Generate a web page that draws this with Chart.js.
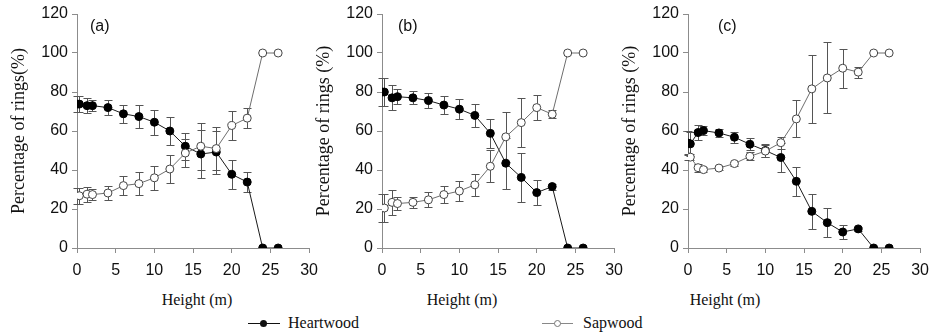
<!DOCTYPE html>
<html>
<head>
<meta charset="utf-8">
<script src="https://cdn.jsdelivr.net/npm/chart.js@4.4.1/dist/chart.umd.min.js"></script>
<style>
  body { margin: 0; background: #fff; }
  #fig { position: relative; width: 939px; height: 335px; overflow: hidden; background: #fff; }
  #fig canvas { position: absolute; top: 0; }
  .lbl { position: absolute; font-family: "Liberation Sans", Arial, sans-serif; font-size: 16px; color: #111; line-height: 18px; }
  .xt { position: absolute; width: 140px; text-align: center; font-family: "Liberation Serif", serif; font-size: 16px; color: #111; line-height: 20px; top: 290px; }
  .leg { position: absolute; top: 313px; height: 20px; font-family: "Liberation Serif", serif; font-size: 16px; color: #111; line-height: 20px; }
  .leg .ln { position: absolute; top: 10px; height: 1px; }
  .leg .dot { position: absolute; top: 7px; width: 7px; height: 7px; border-radius: 50%; box-sizing: border-box; }
</style>
</head>
<body>
<div id="fig">
  <canvas id="pa" width="326" height="290" style="left:0px"></canvas>
  <canvas id="pb" width="326" height="290" style="left:305px"></canvas>
  <canvas id="pc" width="326" height="290" style="left:611px"></canvas>

  <div class="lbl" style="left:90px;top:17px">(a)</div>
  <div class="lbl" style="left:398px;top:17px">(b)</div>
  <div class="lbl" style="left:718px;top:17px">(c)</div>

  <div class="xt" style="left:127px">Height (m)</div>
  <div class="xt" style="left:392px">Height (m)</div>
  <div class="xt" style="left:655px">Height (m)</div>

  <div class="leg" style="left:248px;width:120px">
    <div class="ln" style="left:0;width:32px;background:#111"></div>
    <div class="dot" style="left:12px;background:#111"></div>
    <span style="position:absolute;left:40px">Heartwood</span>
  </div>
  <div class="leg" style="left:542px;width:120px">
    <div class="ln" style="left:0;width:31px;background:#888"></div>
    <div class="dot" style="left:12px;background:#fff;border:1px solid #777"></div>
    <span style="position:absolute;left:41px">Sapwood</span>
  </div>
</div>

<script>
/* ── DATA ─────────────────────────────────────────────────────────────── */
const HEIGHTS = [0, 0.3, 1.3, 2, 4, 6, 8, 10, 12, 14, 16, 18, 20, 22, 24, 26];
const X_TICKS = [0, 5, 10, 15, 20, 25, 30];
const Y_TICKS = [0, 20, 40, 60, 80, 100, 120];

const heartA    = [73.8, 73.8, 73, 73, 72, 68.8, 67.4, 64.5, 60, 52.2, 48.2, 49.2, 37.8, 33.8, 0, 0];
const heartAErr = [4, 4, 3.8, 3, 3.8, 4.5, 5.8, 6.3, 7, 7, 12.5, 11, 7.5, 5, 0, 0];
const sapA      = [26.8, 26.8, 27.6, 27.4, 28.2, 32, 33, 36, 40.5, 48.7, 52.2, 51, 62.8, 66.6, 100, 100];
const sapAErr   = [4, 4, 3.8, 3, 3.8, 4.8, 6, 6, 7, 7, 12, 11, 7.5, 5, 0, 0];

const heartB    = [80, 80, 77, 77.6, 77, 75.6, 73.3, 71.2, 68, 58.8, 43.5, 36.2, 28.4, 31.5, 0, 0];
const heartBErr = [7, 7, 6.4, 4, 3.4, 4, 4.5, 5.3, 6, 7.5, 13, 12.5, 6.6, 1.5, 0, 0];
const sapB      = [20.5, 20.5, 23.4, 22.8, 23.4, 24.7, 27.4, 29.2, 32.4, 41.9, 57, 64.3, 72, 68.6, 100, 100];
const sapBErr   = [7, 7, 6.4, 3.5, 3, 3.8, 4.5, 5, 5.5, 8.2, 12.8, 12.5, 6.5, 2, 0, 0];

const heartC    = [53.8, 53.4, 59.2, 60.2, 59, 56.8, 53.2, 50, 46.4, 34.2, 18.8, 13, 8.2, 9.8, 0, 0];
const heartCErr = [6, 6, 3.8, 2.5, 2.2, 2.8, 3, 3.5, 7.5, 7.5, 8.8, 7.4, 3.8, 1, 0, 0];
const sapC      = [46.8, 46.6, 41.2, 40.2, 41, 43.3, 47, 49.7, 54, 66.2, 81.6, 87.2, 92.2, 90.2, 100, 100];
const sapCErr   = [1.5, 1.5, 2, 1.2, 1, 1, 2, 3, 3, 9.5, 17.5, 18.2, 10, 2.8, 0, 0];

/* ── STYLE ────────────────────────────────────────────────────────────── */
const AXIS_GREY = "#8c8c8c";
const ERR_GREY = "#555555";
const TICK_FONT = { family: "'Liberation Sans', Arial, sans-serif", size: 16 };
const TITLE_FONT = { family: "'Liberation Serif', serif", size: 18 };

/* error bars drawn under the points, through the chart's own scales */
const errorBarPlugin = {
  id: "errorBars",
  beforeDatasetsDraw(chart) {
    const { ctx, scales: { x, y } } = chart;
    chart.data.datasets.forEach(function (ds) {
      if (!ds.errors) return;
      ctx.save();
      ctx.strokeStyle = ERR_GREY;
      ctx.lineWidth = 1;
      ds.data.forEach(function (pt, i) {
        const e = ds.errors[i];
        if (!e) return;
        const px = Math.round(x.getPixelForValue(pt.x)) + 0.5;
        const top = Math.round(y.getPixelForValue(pt.y + e)) + 0.5;
        const bot = Math.round(y.getPixelForValue(pt.y - e)) + 0.5;
        ctx.beginPath();
        ctx.moveTo(px, top); ctx.lineTo(px, bot);
        ctx.moveTo(px - 4, top); ctx.lineTo(px + 4, top);
        ctx.moveTo(px - 4, bot); ctx.lineTo(px + 4, bot);
        ctx.stroke();
      });
      ctx.restore();
    });
  },
};

function pts(vals) {
  return HEIGHTS.map(function (h, i) { return { x: h, y: vals[i] }; });
}

function makePanel(id, left, right, yTitle, heart, heartErr, sap, sapErr) {
  const W = 326;
  new Chart(document.getElementById(id), {
    type: "line",
    data: {
      datasets: [
        {
          label: "Sapwood",
          data: pts(sap),
          errors: sapErr,
          borderColor: "#6e6e6e",
          borderWidth: 1,
          pointRadius: 4,
          pointBackgroundColor: "#ffffff",
          pointBorderColor: "#444444",
          pointBorderWidth: 1,
        },
        {
          label: "Heartwood",
          data: pts(heart),
          errors: heartErr,
          borderColor: "#1a1a1a",
          borderWidth: 1,
          pointRadius: 4,
          pointBackgroundColor: "#000000",
          pointBorderColor: "#000000",
          pointBorderWidth: 1,
        },
      ],
    },
    options: {
      responsive: false,
      animation: false,
      devicePixelRatio: 1,
      layout: { padding: { top: 14, right: W - (right - left), bottom: 0, left: 0 } },
      plugins: { legend: { display: false }, tooltip: { enabled: false } },
      scales: {
        x: {
          type: "linear",
          min: 0,
          max: 30,
          afterBuildTicks(s) { s.ticks = X_TICKS.map(function (v) { return { value: v }; }); },
          afterFit(s) { s.height = 42; },
          ticks: { color: "#111", font: TICK_FONT, padding: 8, maxRotation: 0 },
          grid: { drawOnChartArea: false, drawTicks: true, tickLength: 5, color: AXIS_GREY },
          border: { color: AXIS_GREY },
        },
        y: {
          min: 0,
          max: 120,
          afterBuildTicks(s) { s.ticks = Y_TICKS.map(function (v) { return { value: v }; }); },
          afterFit(s) { s.width = 77; },
          ticks: { color: "#111", font: TICK_FONT, padding: 4 },
          grid: { drawOnChartArea: false, drawTicks: true, tickLength: 5, color: AXIS_GREY },
          border: { color: AXIS_GREY },
          title: { display: true, text: yTitle, color: "#111", font: TITLE_FONT, padding: { top: 8, bottom: 0 } },
        },
      },
    },
    plugins: [errorBarPlugin],
  });
}

makePanel("pa", 0, 315, "Percentage of rings(%)", heartA, heartAErr, sapA, sapAErr);
makePanel("pb", 305, 620, "Percentage of rings (%)", heartB, heartBErr, sapB, sapBErr);
makePanel("pc", 611, 925, "Percentage of rings (%)", heartC, heartCErr, sapC, sapCErr);
</script>
</body>
</html>
